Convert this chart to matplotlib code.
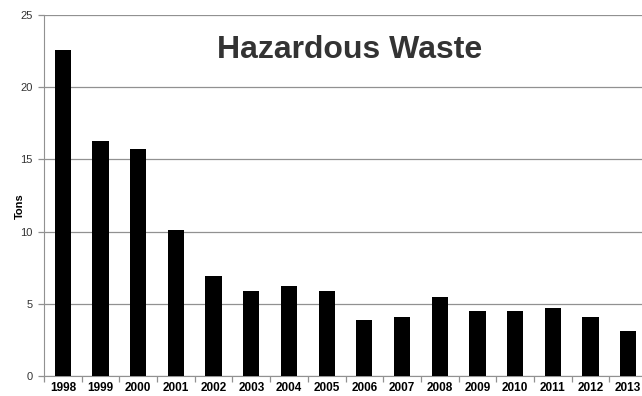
import numpy as np
import matplotlib.pyplot as plt

years = ['1998', '1999', '2000', '2001', '2002', '2003', '2004', '2005',
         '2006', '2007', '2008', '2009', '2010', '2011', '2012', '2013']
tons = [22.6, 16.3, 15.7, 10.1, 6.9, 5.9, 6.2, 5.9,
        3.9, 4.1, 5.5, 4.5, 4.5, 4.7, 4.1, 3.1]

plt.rcParams['font.family'] = ['Liberation Sans', 'DejaVu Sans']

fig = plt.figure(figsize=(6.42, 3.96), dpi=100)
ax = fig.add_axes([44 / 642, 20 / 396, 603 / 642, 361 / 396])

x = np.arange(len(years))
ax.bar(x, tons, width=0.43, color='black', zorder=3)

ax.set_xlim(-0.5, len(years) - 0.5)
ax.set_ylim(0, 25)
ax.set_yticks([0, 5, 10, 15, 20, 25])
ax.yaxis.grid(True, color='#919191', linewidth=0.9, zorder=0)

# ticks sit between the categories, labels at the centres
ax.set_xticks(np.arange(-0.5, len(years), 1.0))
ax.set_xticklabels([])
ax.set_xticks(x, minor=True)
ax.set_xticklabels(years, minor=True, fontsize=8.5, fontweight='bold')
ax.tick_params(axis='x', which='minor', length=0, pad=4)
ax.tick_params(axis='x', which='major', length=4, color='#919191', width=0.9)
ax.tick_params(axis='y', length=4, color='#919191', width=0.9,
               labelsize=8, labelcolor='#333333', pad=4)

for side in ['top', 'right']:
    ax.spines[side].set_visible(False)
ax.spines['left'].set_color('#919191')
ax.spines['bottom'].set_color('#919191')

ax.set_ylabel('Tons', fontsize=8, fontweight='bold')
ax.yaxis.set_label_coords(-0.032, 0.47)

fig.text(350 / 642, 1 - 50 / 396, 'Hazardous Waste',
         ha='center', va='center', fontsize=23, fontweight='bold',
         color='#333333', zorder=5)

fig.savefig('out.png', dpi=100)
